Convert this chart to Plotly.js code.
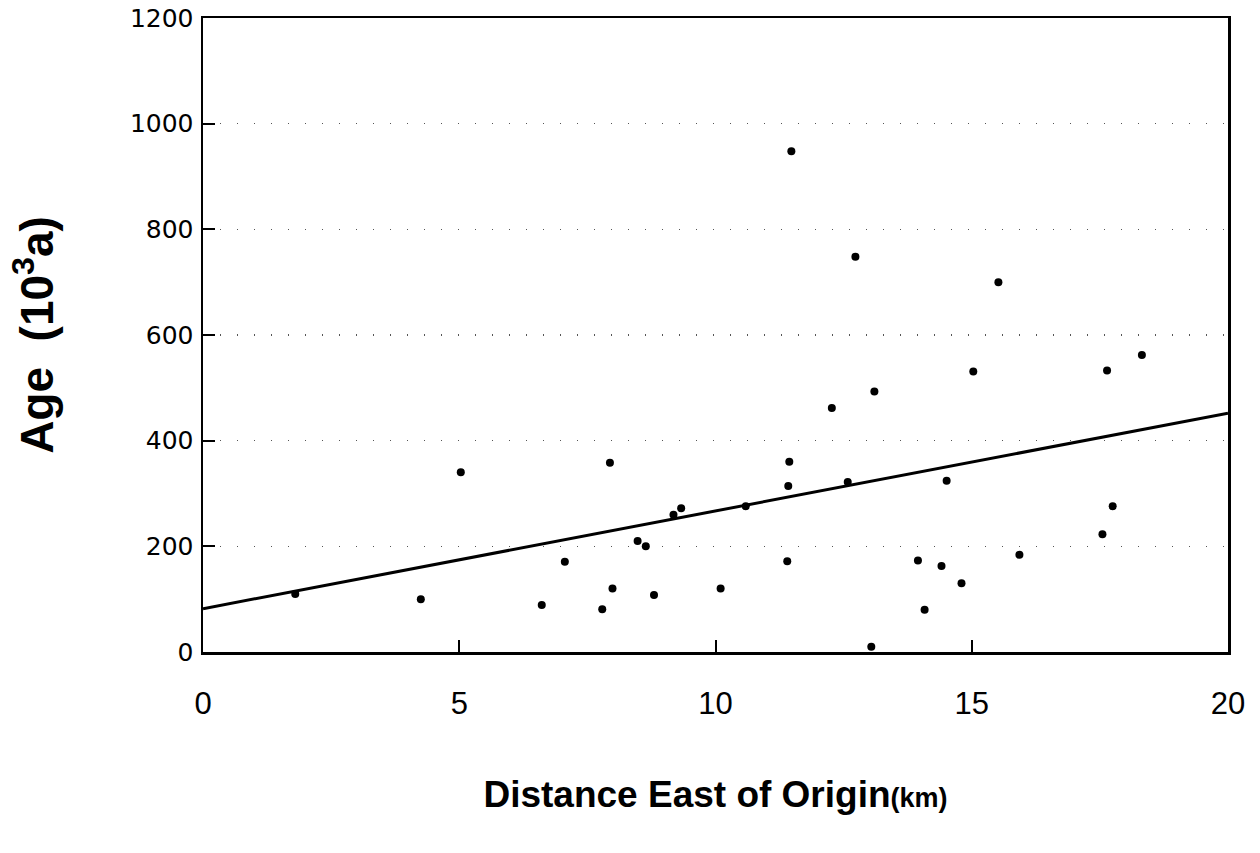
<!DOCTYPE html>
<html>
<head>
<meta charset="utf-8">
<script src="https://cdn.plot.ly/plotly-3.0.1.min.js"></script>
<style>html,body{margin:0;padding:0;background:#fff;}#chart{width:1260px;height:853px;}</style>
</head>
<body>
<div id="chart"></div>
<script>
// Sample data: distance east of origin (km) and age (10^3 a)
const distanceKm = [1.8, 4.25, 5.03, 6.61, 7.06, 7.79, 7.94, 7.99, 8.48, 8.64, 8.80, 9.18, 9.33,
  10.10, 10.59, 11.40, 11.42, 11.44, 11.48, 12.27, 12.58, 12.73, 13.04, 13.10, 13.95, 14.08,
  14.41, 14.51, 14.80, 15.03, 15.52, 15.93, 17.55, 17.64, 17.75, 18.32];
const ageKa = [110, 100, 340, 89, 171, 81, 358, 120, 210, 200, 108, 260, 272,
  120, 276, 172, 314, 360, 948, 462, 322, 748, 10, 493, 173, 80,
  163, 324, 130, 531, 700, 184, 223, 533, 276, 562];
// Regression line end points
const fitX = [0, 20];
const fitY = [82, 452];

const xTicks = [0, 5, 10, 15, 20];
const yTicks = [0, 200, 400, 600, 800, 1000, 1200];

const traces = [
  {x: fitX, y: fitY, mode: 'lines', type: 'scatter',
   line: {color: '#000', width: 3}, hoverinfo: 'skip', showlegend: false},
  {x: distanceKm, y: ageKa, mode: 'markers', type: 'scatter',
   marker: {color: '#000', size: 8}, showlegend: false}
];

const layout = {
  width: 1260, height: 853,
  margin: {l: 203, r: 32, t: 18, b: 201},
  paper_bgcolor: '#fff', plot_bgcolor: '#fff',
  showlegend: false,
  xaxis: {
    range: [0, 20], tickvals: xTicks, ticktext: xTicks.map(String),
    ticks: 'inside', ticklen: 12, tickwidth: 2, tickcolor: '#000',
    showline: true, linecolor: '#000', linewidth: 2.5, mirror: true,
    showgrid: false, zeroline: false,
    ticklabelstandoff: 22,
    tickfont: {family: 'Liberation Sans Narrow, Liberation Sans, sans-serif', size: 31, color: '#000'},
    title: {text: "Distance East of Origin<span style='font-size:27px'>(km)</span>",
      font: {family: 'Liberation Sans Narrow, Liberation Sans, sans-serif', size: 37, color: '#000', weight: 'bold'},
      standoff: 62}
  },
  yaxis: {
    range: [0, 1200], tickvals: yTicks, ticktext: yTicks.map(String),
    ticks: 'inside', ticklen: 12, tickwidth: 2, tickcolor: '#000',
    showline: true, linecolor: '#000', linewidth: 2.5, mirror: true,
    showgrid: true, gridcolor: '#555', gridwidth: 1.2, griddash: '1px,16px',
    zeroline: false,
    ticklabelstandoff: 2,
    tickfont: {family: 'DejaVu Sans, sans-serif', size: 25, color: '#000'},
    title: {text: 'Age  (10<sup>3</sup>a)',
      font: {family: 'Liberation Sans, Arial, sans-serif', size: 46, color: '#000', weight: 'bold'},
      standoff: 62}
  }
};

Plotly.newPlot('chart', traces, layout, {staticPlot: true});
</script>
</body>
</html>
